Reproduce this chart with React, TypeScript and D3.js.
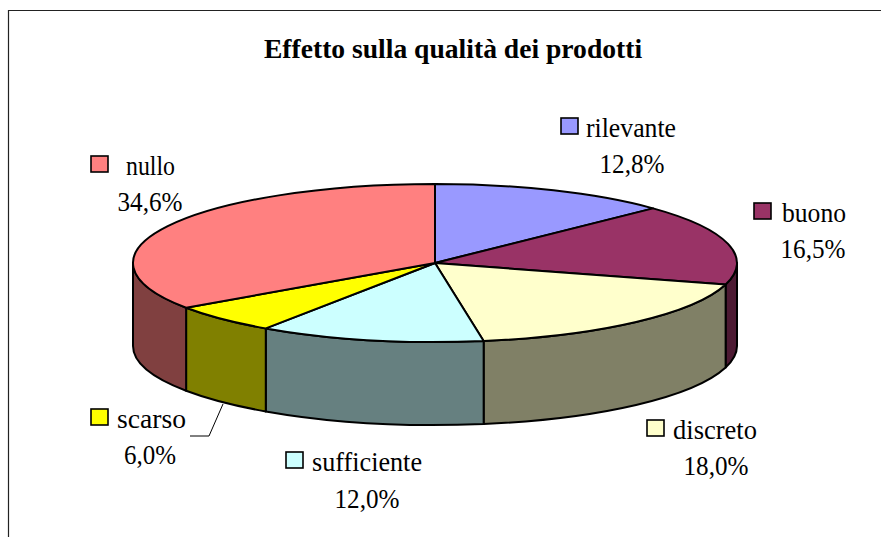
import React from "react";
import * as d3 from "d3";

const title = "Effetto sulla qualità dei prodotti";
const categories = ["rilevante", "buono", "discreto", "sufficiente", "scarso", "nullo"];
const values = [12.84, 16.54, 18.04, 12.04, 5.95, 34.58];
const valueLabels = ["12,8%", "16,5%", "18,0%", "12,0%", "6,0%", "34,6%"];
const colors = ["#9999FF", "#993366", "#FFFFCC", "#CCFFFF", "#FFFF00", "#FF8080"];

// layout
const W = 881, H = 537;
const cx = 435, cy = 263, rx = 302, ry = 79, depth = 83;
const FONT = "'Liberation Serif','Times New Roman',serif";
const FS = 26.5;
const labelLayout = [
  { key: [561, 118], text: [586, 137], tw: 90, pct: [632, 173], pw: 65 },
  { key: [754, 203], text: [782, 222], tw: 64, pct: [813, 258], pw: 65 },
  { key: [647, 420], text: [673, 439], tw: 84, pct: [716, 475], pw: 65 },
  { key: [286, 452], text: [312, 471], tw: 110, pct: [367, 508], pw: 65 },
  { key: [91, 409], text: [117, 428], tw: 69, pct: [150, 464], pw: 52 },
  { key: [91, 156], text: [126, 175], tw: 49, pct: [150, 211], pw: 65 },
];

const sx = d3.scaleLinear().domain([-1, 1]).range([cx - rx, cx + rx]);
const sy = d3.scaleLinear().domain([-1, 1]).range([cy + ry, cy - ry]);
const px = (a: number) => sx(Math.sin(a));
const py = (a: number) => sy(Math.cos(a));

const arcs = d3.pie<number>().sort(null).value((d) => d).startAngle(0).endAngle(2 * Math.PI)(values);

function topPath(a0: number, a1: number) {
  const p = d3.path();
  p.moveTo(cx, cy);
  p.lineTo(px(a0), py(a0));
  const large = a1 - a0 > Math.PI ? 1 : 0;
  return `${p.toString()}A${rx},${ry} 0 ${large} 1 ${px(a1)},${py(a1)}Z`;
}

function sidePath(a0: number, a1: number) {
  const s = Math.max(a0, Math.PI / 2);
  const e = Math.min(a1, (3 * Math.PI) / 2);
  if (e <= s) return null;
  const large = e - s > Math.PI ? 1 : 0;
  return (
    `M${px(s)},${py(s)}A${rx},${ry} 0 ${large} 1 ${px(e)},${py(e)}` +
    `L${px(e)},${py(e) + depth}A${rx},${ry} 0 ${large} 0 ${px(s)},${py(s) + depth}Z`
  );
}

const darken = (c: string) => {
  const r = d3.rgb(c);
  return d3.rgb(r.r * 0.5, r.g * 0.5, r.b * 0.5).formatHex();
};

export default function App() {
  return (
    <svg
      width={W}
      height={H}
      viewBox={`0 0 ${W} ${H}`}
      style={{ position: "absolute", left: 0, top: 0, background: "#fff" }}
    >
      <path d={`M8.5,${H}V10.5H${W}`} fill="none" stroke="#222" strokeWidth={1.2} />
      <text x={453} y={58} textAnchor="middle" fontFamily={FONT} fontSize={27.6} fontWeight="bold" fill="#000">
        {title}
      </text>

      {arcs.map((a, i) => {
        const d = sidePath(a.startAngle, a.endAngle);
        return d ? (
          <path key={`s${i}`} d={d} fill={darken(colors[i])} stroke="#000" strokeWidth={2} strokeLinejoin="round" />
        ) : null;
      })}
      {arcs.map((a, i) => (
        <path key={`t${i}`} d={topPath(a.startAngle, a.endAngle)} fill={colors[i]} stroke="#000" strokeWidth={2} strokeLinejoin="round" />
      ))}

      <path d="M190,436H209L223,404" fill="none" stroke="#000" strokeWidth={1} />

      {categories.map((c, i) => {
        const l = labelLayout[i];
        return (
          <g key={c} fontFamily={FONT} fontSize={FS} fill="#000">
            <rect x={l.key[0]} y={l.key[1]} width={17} height={16} fill={colors[i]} stroke="#000" strokeWidth={1.6} />
            <text x={l.text[0]} y={l.text[1]} textLength={l.tw} lengthAdjust="spacingAndGlyphs">{c}</text>
            <text x={l.pct[0]} y={l.pct[1]} textAnchor="middle" textLength={l.pw} lengthAdjust="spacingAndGlyphs">{valueLabels[i]}</text>
          </g>
        );
      })}
    </svg>
  );
}
